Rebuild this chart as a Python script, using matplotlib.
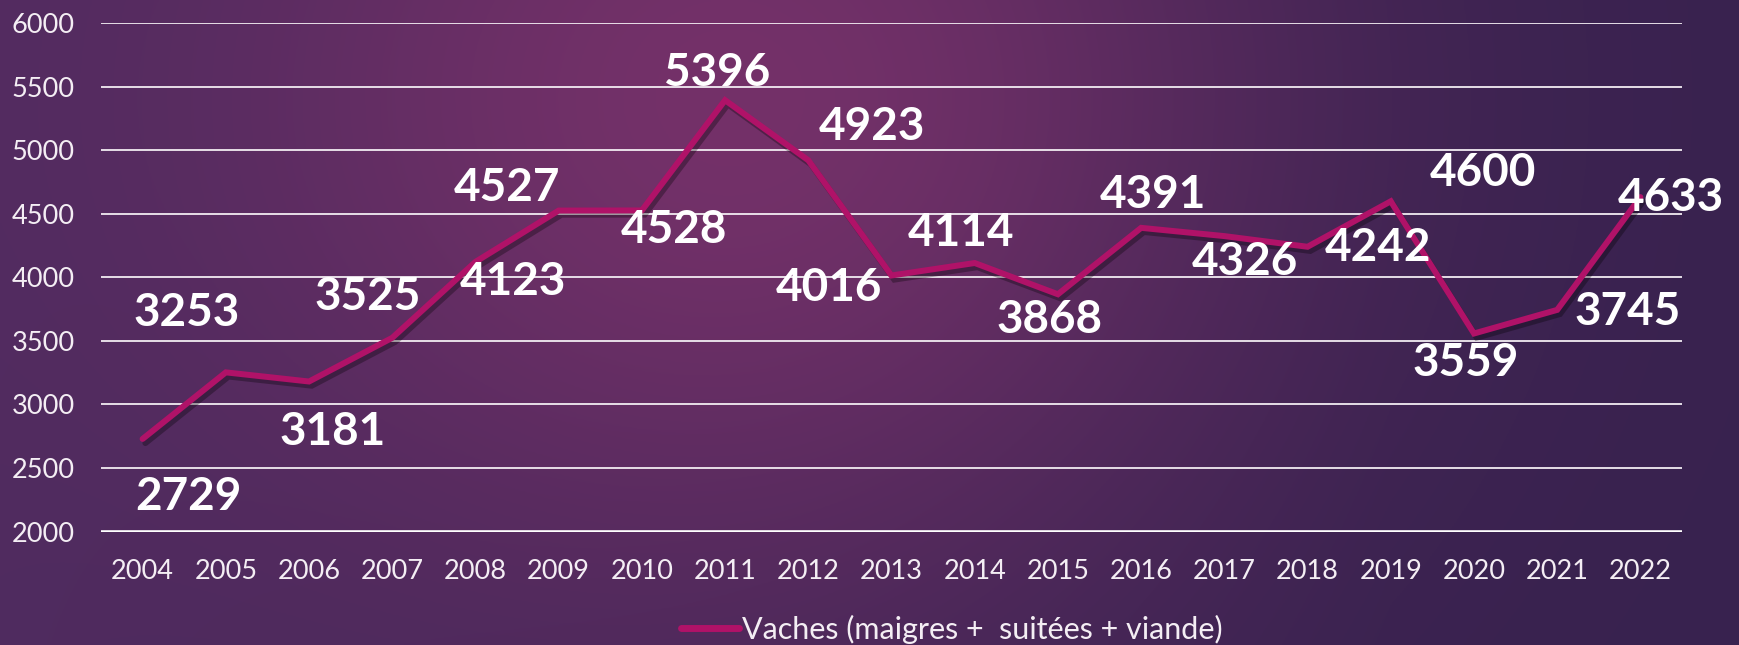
import numpy as np
import matplotlib
matplotlib.use("Agg")
import matplotlib.pyplot as plt
import matplotlib.patheffects as pe
from matplotlib.lines import Line2D

years = ["2004", "2005", "2006", "2007", "2008", "2009", "2010", "2011", "2012",
         "2013", "2014", "2015", "2016", "2017", "2018", "2019", "2020", "2021", "2022"]
vaches = [2729, 3253, 3181, 3525, 4123, 4527, 4528, 5396, 4923,
          4016, 4114, 3868, 4391, 4326, 4242, 4600, 3559, 3745, 4633]
series_name = "Vaches (maigres +  suitées + viande)"
y_ticks = [2000, 2500, 3000, 3500, 4000, 4500, 5000, 5500, 6000]

# label placement offsets (category units, value units) relative to each point
label_dx = [0.55, -0.47, 0.28, -0.30, 0.45, -0.62, 0.38, -0.10, 0.77, -0.75,
            -0.17, -0.10, 0.14, 0.25, 0.85, 1.11, -0.10, 0.85, 0.36]
label_dy = [-457, 467, -398, 321, -158, 178, -154, 214, 262, -99,
            236, -203, 259, -204, -10, 223, -232, -17, -7]

LINE_COLOR = "#b01268"
FONT = ["Lato", "DejaVu Sans"]

fig = plt.figure(figsize=(17.4, 6.45), dpi=100)

# background gradient
bg = fig.add_axes([0, 0, 1, 1], zorder=-10)
H, W = 260, 700
yy, xx = np.mgrid[0:H, 0:W]
u = xx / (W - 1)
v = yy / (H - 1)
dark = np.array([0x38, 0x22, 0x4f]) / 255
left = np.array([0x4e, 0x2b, 0x5f]) / 255
hi = np.array([0x74, 0x31, 0x69]) / 255
g = np.exp(-(((u - 0.42) / 0.30) ** 2 + ((v - 0.15) / 0.75) ** 2))
wl = np.clip(1 - u / 0.8, 0, 1)[..., None]
base = left * wl + dark * (1 - wl)
img = base * (1 - g[..., None]) + hi * g[..., None]
bg.imshow(img, aspect="auto", extent=[0, 1, 0, 1], origin="upper")
bg.axis("off")

ax = fig.add_axes([101 / 1740, 1 - 531.5 / 645, (1682 - 101) / 1740, (531.5 - 23.5) / 645])
ax.set_facecolor("none")
x = np.arange(len(years))
ax.set_xlim(-0.5, len(years) - 0.5)
ax.set_ylim(2000, 6000)

for t in y_ticks[1:]:
    ax.axhline(t, color="#f2ecf2", lw=1.3, zorder=1)
ax.axhline(2000, color="white", lw=2.6, zorder=1)

ax.plot(x, vaches, color=LINE_COLOR, lw=4.3, solid_joinstyle="miter",
        solid_capstyle="round", zorder=3,
        path_effects=[pe.SimpleLineShadow(offset=(2, -3), shadow_color="black", alpha=0.3),
                      pe.Normal()])

for i, val in enumerate(vaches):
    ax.text(x[i] + label_dx[i], val + label_dy[i], str(val), ha="center", va="center",
            color="white", fontsize=33, fontweight="bold", family=FONT, zorder=5)

for s in ax.spines.values():
    s.set_visible(False)
ax.set_xticks(x)
ax.set_xticklabels(years)
ax.set_yticks(y_ticks)
ax.set_yticklabels([str(t) for t in y_ticks])
ax.tick_params(length=0, colors="#f4eef4", labelsize=19.5)
ax.tick_params(axis="y", pad=19)
ax.tick_params(axis="x", pad=20)
for lab in ax.get_xticklabels() + ax.get_yticklabels():
    lab.set_family(FONT)
    lab.set_fontweight("normal")

handle = Line2D([], [], color=LINE_COLOR, lw=5, solid_capstyle="round")
leg = fig.legend([handle], [series_name], loc="center", bbox_to_anchor=(0.547, 1 - 629 / 645),
                 frameon=False, handlelength=1.9, handletextpad=0.12,
                 prop={"family": FONT, "size": 22, "weight": "normal"})
for t in leg.get_texts():
    t.set_color("#f4eef4")

fig.savefig("out.png", dpi=100)
